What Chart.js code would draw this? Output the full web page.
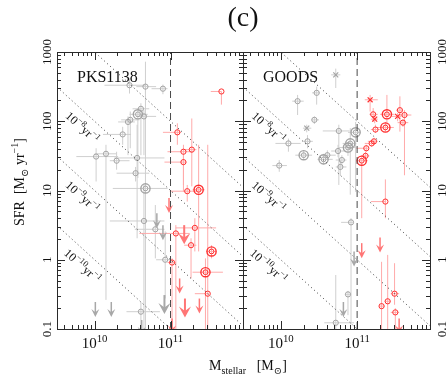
<!DOCTYPE html>
<html>
<head>
<meta charset="utf-8">
<script src="https://cdn.jsdelivr.net/npm/chart.js@4.4.0/dist/chart.umd.min.js"></script>
<style>
html, body { margin: 0; padding: 0; background: #fff; }
#wrap { position: relative; width: 448px; height: 382px; }
#wrap canvas { position: absolute; left: 0; top: 0; }
</style>
</head>
<body>
<div id="wrap">
  <canvas id="pks" width="448" height="382"></canvas>
  <canvas id="goods" width="448" height="382"></canvas>
</div>
<script>
// axis ranges
const xMin = 3.2e9, xMax = 9e11, yMin = 0.1, yMax = 1000;
const massCut = 1e11;
// reference lines: SFR * M = const, with labels
const diagConst = [1e13, 1e12, 1e11, 1e10];
const diagLabel = ['', '\u22128', '\u22129', '\u221210'];

// ---- PKS1138, low mass (grey) ----
const pksGrayLogM   = [10.46, 10.67, 10.90, 10.61, 10.57, 10.65, 10.47, 10.44, 10.37, 10.02, 10.15, 10.29, 10.56, 10.54, 10.67, 10.65, 10.80, 10.93, 10.61];
const pksGrayLogSFR = [2.52, 2.50, 2.47, 2.18, 2.10, 2.07, 2.02, 1.99, 1.81, 1.49, 1.53, 1.43, 1.47, 1.25, 1.03, 0.56, 0.44, 0.00, -0.75];
const pksGrayMErr   = [[10.13, 10.68], [10.55, 10.81], [10.75, 10.96], [10.50, 10.72], [10.46, 10.70], [10.55, 10.81], [10.35, 10.59], [10.31, 10.53], [10.11, 10.48], [9.76, 10.31], [10.00, 10.29], [10.20, 10.46], [10.26, 10.92], [10.29, 10.72], [10.24, 10.96], [10.20, 10.92], [10.53, 10.92], [10.81, 11.01], [10.42, 10.86]];
const pksGraySFRErr = [[2.40, 2.62], [2.40, 2.60], [2.39, 2.53], [1.51, 2.26], [1.18, 2.19], [1.51, 2.16], [1.61, 2.14], [1.51, 2.07], [1.66, 1.92], [1.13, 1.61], [-0.58, 1.66], [1.30, 1.56], [0.31, 1.95], [1.13, 1.34], [-1.2, 2.86], [-1.2, 1.08], [0.02, 0.79], [-0.56, 0.41], [-1.2, -0.61]];
const pksGrayMark   = ['o', 'o', 'o', 'o', 'O', 'o', 'o', 'o', 'o', 'o', 'o', 'o', 'o', 'o', 'O', 'o', 'o', 'o', 'o'];
const pksGrayLimM   = [10.01, 10.22, 10.82, 10.90, 10.92, 10.62];
const pksGrayLimSFR = [-0.61, -0.61, 0.67, 0.50, -0.51, -0.87];
const pksGrayLimBig = [0, 0, 0, 0, 1, 0];

// ---- PKS1138, high mass (red) ----
const pksRedLogM   = [11.67, 11.09, 11.17, 11.28, 11.17, 11.22, 11.37, 11.32, 11.07, 11.27, 11.54, 11.46, 11.02, 11.49];
const pksRedLogSFR = [2.43, 1.84, 1.56, 1.59, 1.41, 0.99, 1.01, 0.46, 0.38, 0.21, 0.12, -0.18, -0.04, -0.49];
const pksRedMErr   = [[11.53, 11.67], [10.90, 11.14], [10.96, 11.29], [11.16, 11.34], [10.92, 11.21], [10.99, 11.38], [11.29, 11.45], [11.07, 11.60], [10.59, 11.25], [11.18, 11.34], [11.47, 11.60], [11.29, 11.69], [10.96, 11.07], [11.32, 11.51]];
const pksRedSFRErr = [[2.24, 2.43], [1.66, 1.97], [1.08, 1.66], [1.06, 2.04], [0.98, 1.51], [0.84, 1.08], [0.12, 1.66], [0.12, 0.60], [-1.2, 0.50], [-0.27, 0.31], [0.02, 0.21], [-1.2, 0.02], [-1.2, 0.02], [-1.2, 1.66]];
const pksRedMark   = ['o', 'o', 'o', 'o', 'o', 'o', 'O', 'o', 'o', 'o', 'O', 'O', 'o', 'o'];
const pksRedLimM   = [10.98, 11.18, 11.12, 11.19, 11.38, 11.02];
const pksRedLimSFR = [0.89, 0.50, -0.27, -0.56, -0.56, -0.85];
const pksRedLimBig = [0, 1, 0, 1, 0, 0];

// ---- GOODS, low mass (grey) ----
const goodsGrayLogM   = [10.72, 10.47, 10.22, 10.44, 10.34, 10.35, 10.10, 9.98, 10.30, 10.76, 10.98, 10.91, 10.88, 10.75, 10.61, 10.56, 10.80, 10.78, 10.92, 10.88, 10.72];
const goodsGrayLogSFR = [2.67, 2.41, 2.29, 2.02, 1.90, 1.71, 1.68, 1.36, 1.51, 1.86, 1.84, 1.68, 1.62, 1.57, 1.51, 1.45, 1.44, 1.34, 0.54, -0.50, -0.91];
const goodsGrayMErr   = [[10.66, 10.78], [10.41, 10.51], [10.15, 10.30], [10.40, 10.50], [10.29, 10.40], [10.29, 10.42], [9.93, 10.26], [9.89, 10.08], [10.19, 10.41], [10.55, 10.90], [10.88, 11.04], [10.81, 10.99], [10.75, 10.99], [10.66, 10.86], [10.53, 10.72], [10.48, 10.68], [10.72, 10.86], [10.72, 10.86], [10.79, 10.95], [10.84, 10.92], [10.57, 10.96]];
const goodsGraySFRErr = [[2.48, 2.76], [2.24, 2.50], [2.09, 2.38], [1.96, 2.07], [1.84, 1.95], [1.61, 1.80], [1.56, 1.75], [1.27, 1.44], [1.44, 1.58], [1.08, 1.95], [0.98, 1.99], [0.94, 1.90], [1.50, 1.70], [1.48, 1.66], [1.44, 1.58], [1.38, 1.53], [1.36, 1.51], [1.22, 1.44], [-0.94, 0.60], [-0.80, -0.45], [-1.2, -0.22]];
const goodsGrayMark   = ['x', 'o', 'o', 'o', 'x', 'o', 'o', 'o', 'O', 'o', 'O', 'O', 'O', 'o', 'o', 'O', 'o', 'o', 'o', 'o', 'o'];
const goodsGrayLimM   = [10.96, 10.82];
const goodsGrayLimSFR = [0.12, -0.61];
const goodsGrayLimBig = [0, 0];

// ---- GOODS, high mass (red) ----
const goodsRedLogM   = [11.17, 11.21, 11.23, 11.39, 11.56, 11.53, 11.62, 11.60, 11.37, 11.24, 11.22, 11.19, 11.12, 11.11, 11.06, 11.37, 11.49, 11.32, 11.40, 11.50];
const goodsRedLogSFR = [2.31, 2.10, 2.03, 2.10, 2.16, 2.07, 2.09, 1.98, 1.91, 1.88, 1.71, 1.68, 1.61, 1.50, 1.43, 0.84, -0.49, -0.67, -0.60, -0.76];
const goodsRedMErr   = [[11.10, 11.27], [11.16, 11.27], [11.18, 11.27], [11.30, 11.49], [11.51, 11.60], [11.45, 11.58], [11.56, 11.71], [11.53, 11.67], [11.25, 11.48], [11.18, 11.30], [11.14, 11.27], [11.10, 11.25], [10.99, 11.14], [11.05, 11.16], [10.99, 11.14], [11.18, 11.38], [11.44, 11.55], [11.29, 11.36], [11.36, 11.44], [11.44, 11.55]];
const goodsRedSFRErr = [[2.14, 2.38], [1.99, 2.19], [1.97, 2.09], [1.95, 2.38], [1.85, 2.36], [2.00, 2.12], [1.22, 2.16], [1.92, 2.03], [1.85, 1.99], [1.83, 1.95], [1.66, 1.75], [1.63, 1.72], [1.56, 1.66], [1.44, 1.56], [0.60, 1.48], [0.60, 1.16], [-0.65, -0.05], [-1.2, -0.03], [-1.2, 0.07], [-1.2, -0.70]];
const goodsRedMark   = ['x', 'o', 'x', 'O', 'o', 'x', 'o', 'o', 'O', 'o', 'o', 'o', 'o', 'o', 'O', 'o', 'o', 'o', 'o', 'o'];
const goodsRedLimM   = [11.06, 11.30, 11.55];
const goodsRedLimSFR = [0.24, 0.32, -0.85];
const goodsRedLimBig = [0, 0, 0];

const FONT = '"Liberation Serif", "DejaVu Serif", serif';
const GREY = { mark: '#a3a3a3', err: '#cfcfcf', arrow: '#a8a8a8' };
const RED  = { mark: '#ff2e2e', err: '#ffaaaa', arrow: '#ff7676' };

function group(logM, logSFR, mErr, sfrErr, mark, limM, limSFR, limBig, col) {
    return { logM, logSFR, mErr, sfrErr, mark, limM, limSFR, limBig, col };
}

const panels = [
    { id: 'pks', name: 'PKS1138', left: 57, right: 205,
      groups: [group(pksGrayLogM, pksGrayLogSFR, pksGrayMErr, pksGraySFRErr, pksGrayMark, pksGrayLimM, pksGrayLimSFR, pksGrayLimBig, GREY),
               group(pksRedLogM, pksRedLogSFR, pksRedMErr, pksRedSFRErr, pksRedMark, pksRedLimM, pksRedLimSFR, pksRedLimBig, RED)] },
    { id: 'goods', name: 'GOODS', left: 243, right: 18,
      groups: [group(goodsGrayLogM, goodsGrayLogSFR, goodsGrayMErr, goodsGraySFRErr, goodsGrayMark, goodsGrayLimM, goodsGrayLimSFR, goodsGrayLimBig, GREY),
               group(goodsRedLogM, goodsRedLogSFR, goodsRedMErr, goodsRedSFRErr, goodsRedMark, goodsRedLimM, goodsRedLimSFR, goodsRedLimBig, RED)] }
];

// text with sub/superscripts: parts = [[text, kind]], kind 0 normal, 1 sup, -1 sub
function richWidth(ctx, parts, size) {
    let w = 0;
    parts.forEach(([t, k]) => {
        ctx.font = (k ? size * 0.72 : size) + 'px ' + FONT;
        w += ctx.measureText(t).width;
    });
    return w;
}
function drawRich(ctx, parts, x, y, size, align) {
    const w = richWidth(ctx, parts, size);
    let cx = align === 'center' ? x - w / 2 : (align === 'right' ? x - w : x);
    ctx.textAlign = 'left';
    ctx.textBaseline = 'alphabetic';
    parts.forEach(([t, k]) => {
        ctx.font = (k ? size * 0.72 : size) + 'px ' + FONT;
        const dy = k === 1 ? -size * 0.42 : (k === -1 ? size * 0.3 : 0);
        ctx.fillText(t, cx, y + dy);
        cx += ctx.measureText(t).width;
    });
}

function pts(g, want) {
    const out = [];
    g.logM.forEach((m, i) => { if (g.mark[i] === want) out.push({ x: 10 ** m, y: 10 ** g.logSFR[i] }); });
    return out;
}

function makePlugin(panel, first) {
    return {
        id: 'panel_' + panel.id,
        beforeDatasetsDraw(chart) {
            const { ctx, chartArea: a, scales: { x, y } } = chart;
            ctx.save();
            ctx.beginPath();
            ctx.rect(a.left, a.top, a.right - a.left, a.bottom - a.top);
            ctx.clip();
            ctx.lineWidth = 1;
            panel.groups.forEach(g => {
                ctx.strokeStyle = g.col.err;
                ctx.beginPath();
                g.logM.forEach((m, i) => {
                    const px = x.getPixelForValue(10 ** m), py = y.getPixelForValue(10 ** g.logSFR[i]);
                    ctx.moveTo(x.getPixelForValue(10 ** g.mErr[i][0]), py);
                    ctx.lineTo(x.getPixelForValue(10 ** g.mErr[i][1]), py);
                    ctx.moveTo(px, y.getPixelForValue(10 ** g.sfrErr[i][0]));
                    ctx.lineTo(px, y.getPixelForValue(10 ** g.sfrErr[i][1]));
                });
                ctx.stroke();
            });
            ctx.restore();
        },
        afterDatasetsDraw(chart) {
            const { ctx, chartArea: a, scales: { x, y } } = chart;
            ctx.save();
            ctx.beginPath();
            ctx.rect(a.left, a.top, a.right - a.left, a.bottom - a.top);
            ctx.clip();
            panel.groups.forEach(g => {
                ctx.strokeStyle = g.col.arrow;
                ctx.fillStyle = g.col.arrow;
                g.limM.forEach((m, i) => {
                    const px = x.getPixelForValue(10 ** m), py = y.getPixelForValue(10 ** g.limSFR[i]);
                    const big = g.limBig[i];
                    const L = big ? 19 : 15, hh = big ? 11 : 8, hw = big ? 6 : 4;
                    ctx.lineWidth = big ? 2 : 1.5;
                    ctx.beginPath();
                    ctx.moveTo(px, py);
                    ctx.lineTo(px, py + L - hh * 0.5);
                    ctx.stroke();
                    ctx.beginPath();
                    ctx.moveTo(px, py + L);
                    ctx.lineTo(px - hw, py + L - hh);
                    ctx.lineTo(px, py + L - hh * 0.6);
                    ctx.lineTo(px + hw, py + L - hh);
                    ctx.closePath();
                    ctx.fill();
                });
            });
            ctx.restore();
        },
        afterDraw(chart) {
            const { ctx, chartArea: a, scales: { x, y } } = chart;
            ctx.save();
            ctx.strokeStyle = '#2a2a2a';
            ctx.lineWidth = 1;
            ctx.strokeRect(a.left + 0.5, a.top + 0.5, a.right - a.left, a.bottom - a.top);
            ctx.beginPath();
            for (let e = 9; e <= 11; e++) {
                for (let k = 1; k <= 9; k++) {
                    const v = k * 10 ** e;
                    if (v <= xMin || v >= xMax) continue;
                    const px = Math.round(x.getPixelForValue(v)) + 0.5;
                    const len = k === 1 ? 8 : 4;
                    ctx.moveTo(px, a.bottom); ctx.lineTo(px, a.bottom - len);
                    ctx.moveTo(px, a.top); ctx.lineTo(px, a.top + len);
                }
            }
            for (let e = -1; e <= 3; e++) {
                for (let k = 1; k <= 9; k++) {
                    const v = k * 10 ** e;
                    if (v < yMin || v > yMax) continue;
                    const py = Math.round(y.getPixelForValue(v)) + 0.5;
                    const len = k === 1 ? 8 : 4;
                    ctx.moveTo(a.left, py); ctx.lineTo(a.left + len, py);
                    ctx.moveTo(a.right, py); ctx.lineTo(a.right - len, py);
                }
            }
            ctx.stroke();

            ctx.fillStyle = '#111';
            // x tick labels
            [1e10, 1e11].forEach(v => {
                const exp = String(Math.round(Math.log10(v)));
                drawRich(ctx, [['10', 0], [exp, 1]], x.getPixelForValue(v), a.bottom + 19, 15, 'center');
            });
            // y tick labels (rotated), left of left panel and right of right panel
            const yl = [0.1, 1, 10, 100, 1000];
            const lx = first ? a.left - 10 : a.right + 10;
            ctx.font = '13px ' + FONT;
            ctx.textAlign = 'center';
            ctx.textBaseline = first ? 'bottom' : 'top';
            if (first || true) {
                yl.forEach(v => {
                    ctx.save();
                    ctx.translate(first ? a.left - 6 : a.right + 16, y.getPixelForValue(v));
                    ctx.rotate(-Math.PI / 2);
                    ctx.textBaseline = 'alphabetic';
                    ctx.fillText(String(v), 0, 0);
                    ctx.restore();
                });
            }
            // panel name
            ctx.font = '16px ' + FONT;
            ctx.textAlign = 'left';
            ctx.textBaseline = 'alphabetic';
            ctx.fillText(panel.name, a.left + 20, a.top + 30);

            // labels on the reference lines
            const p0x = x.getPixelForValue(1e10), p1x = x.getPixelForValue(1e11);
            const ang = Math.atan2(y.getPixelForValue(diagConst[0] / 1e11) - y.getPixelForValue(diagConst[0] / 1e10), p1x - p0x);
            diagConst.forEach((c, i) => {
                if (!diagLabel[i]) return;
                const lm = 10 ** 9.84;
                const cx = x.getPixelForValue(lm), cy = y.getPixelForValue(c / lm / 10 ** 0.25);
                ctx.save();
                ctx.translate(cx, cy);
                ctx.rotate(ang);
                ctx.fillStyle = '#111';
                drawRich(ctx, [['10', 0], [diagLabel[i], 1], ['yr', 0], ['\u22121', 1]], 0, 4, 12, 'center');
                ctx.restore();
            });

            if (first) {
                // title
                ctx.font = '28px ' + FONT;
                ctx.textAlign = 'center';
                ctx.fillText('(c)', 243, 26);
                // x axis title
                drawRich(ctx, [['M', 0], ['stellar', -1], ['   [M', 0], ['\u2299', -1], [']', 0]], 248, 370, 14, 'center');
                // y axis title
                ctx.save();
                ctx.translate(24, 182);
                ctx.rotate(-Math.PI / 2);
                drawRich(ctx, [['SFR  [M', 0], ['\u2299', -1], [' yr', 0], ['\u22121', 1], [']', 0]], 0, 0, 14, 'center');
                ctx.restore();
            }
            ctx.restore();
        }
    };
}

panels.forEach((panel, pi) => {
    const datasets = [];
    diagConst.forEach(c => {
        datasets.push({ data: [{ x: xMin, y: c / xMin }, { x: xMax, y: c / xMax }], showLine: true,
            borderColor: '#3a3a3a', borderWidth: 1, borderDash: [1, 3], pointRadius: 0 });
    });
    datasets.push({ data: [{ x: massCut, y: yMin }, { x: massCut, y: yMax }], showLine: true,
        borderColor: '#4a4a4a', borderWidth: 1, borderDash: [7, 4], pointRadius: 0 });
    panel.groups.forEach(g => {
        datasets.push({ data: pts(g, 'o'), pointStyle: 'circle', pointRadius: 2.6, borderWidth: 1,
            borderColor: g.col.mark, backgroundColor: 'rgba(0,0,0,0)' });
        datasets.push({ data: pts(g, 'O'), pointStyle: 'circle', pointRadius: 4.6, borderWidth: 1.4,
            borderColor: g.col.mark, backgroundColor: 'rgba(0,0,0,0)' });
        datasets.push({ data: pts(g, 'O'), pointStyle: 'circle', pointRadius: 2.4, borderWidth: 1,
            borderColor: g.col.mark, backgroundColor: 'rgba(0,0,0,0)' });
        datasets.push({ data: pts(g, 'x'), pointStyle: 'crossRot', pointRadius: 3.5, borderWidth: 1.2,
            borderColor: g.col.mark, backgroundColor: 'rgba(0,0,0,0)' });
    });

    new Chart(document.getElementById(panel.id), {
        type: 'scatter',
        data: { datasets },
        options: {
            responsive: false,
            animation: false,
            events: [],
            layout: { padding: { left: panel.left, right: panel.right, top: 52, bottom: 53 } },
            plugins: { legend: { display: false }, tooltip: { enabled: false } },
            scales: {
                x: { type: 'logarithmic', min: xMin, max: xMax, display: false },
                y: { type: 'logarithmic', min: yMin, max: yMax, display: false }
            }
        },
        plugins: [makePlugin(panel, pi === 0)]
    });
});
</script>
</body>
</html>
